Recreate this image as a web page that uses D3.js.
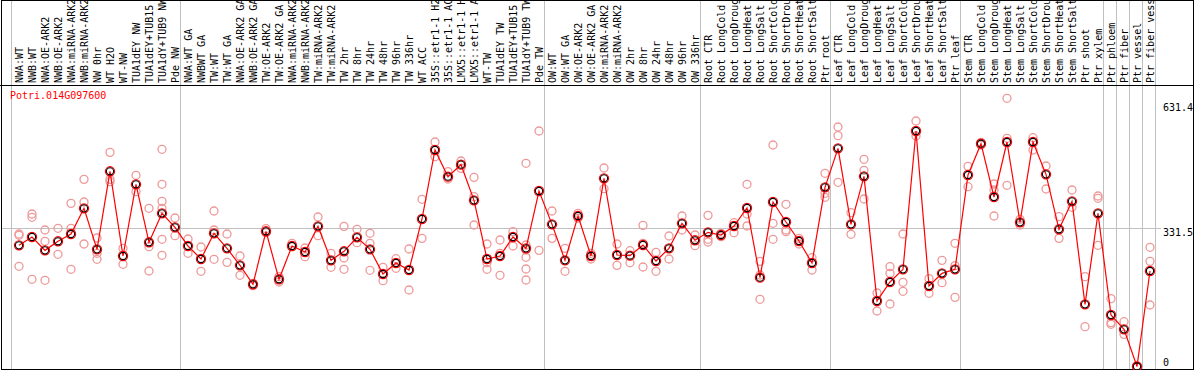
<!DOCTYPE html>
<html lang="en">
  <head>
    <meta charset="UTF-8" />
    <title>Potri.014G097600</title>
    <style>
      body { margin: 0; background: #fff; }
      svg { display: block; }
      text { font-family: "DejaVu Sans Mono", monospace; font-size: 10px; }
    </style>
  </head>
  <body>
    <div class="container"></div>
    <script src="https://d3js.org/d3.v7.min.js"></script>
    <script>
      // sample names, one per column
      const labels = [
        "NWA:WT", "NWB:WT", "NWA:OE-ARK2", "NWB:OE-ARK2", "NWA:miRNA-ARK2", "NWB:miRNA-ARK2",
        "NW 0hr", "WT H2O", "WT-NW", "TUA1dEY NW", "TUA1dEY+TUB15", "TUA1dY+TUB9 NW", "Pde NW",
        "NWA:WT GA", "NWBWT GA", "TW:WT", "TW:WT GA", "NWA:OE-ARK2 GA", "NWB:OE-ARK2 GA",
        "TW:OE-ARK2", "TW:OE-ARK2 GA", "NWA:miRNA-ARK2", "NWB:miRNA-ARK2", "TW:miRNA-ARK2",
        "TW:miRNA-ARK2", "TW 2hr", "TW 8hr", "TW 24hr", "TW 48hr", "TW 96hr", "TW 336hr",
        "WT ACC", "35S::etr1-1 H2O", "35S::etr1-1 ACC", "LMX5::etr1-1 H2O", "LMX5::etr1-1 ACC",
        "WT-TW", "TUA1dEY TW", "TUA1dEY+TUB15", "TUA1dY+TUB9 TW", "Pde TW",
        "OW:WT", "OW:WT GA", "OW:OE-ARK2", "OW:OE-ARK2 GA", "OW:miRNA-ARK2", "OW:miRNA-ARK2",
        "OW 2hr", "OW 8hr", "OW 24hr", "OW 48hr", "OW 96hr", "OW 336hr",
        "Root CTR", "Root LongCold", "Root LongDrought", "Root LongHeat", "Root LongSalt",
        "Root ShortCold", "Root ShortDrought", "Root ShortHeat", "Root ShortSalt", "Ptr root",
        "Leaf CTR", "Leaf LongCold", "Leaf LongDrought", "Leaf LongHeat", "Leaf LongSalt",
        "Leaf ShortCold", "Leaf ShortDrought", "Leaf ShortHeat", "Leaf ShortSalt", "Ptr leaf",
        "Stem CTR", "Stem LongCold", "Stem LongDrought", "Stem LongHeat", "Stem LongSalt",
        "Stem ShortCold", "Stem ShortDrought", "Stem ShortHeat", "Stem ShortSalt", "Ptr shoot",
        "Ptr xylem", "Ptr phloem", "Ptr fiber", "Ptr vessel", "Ptr fiber vessel"
      ];

      // group boundaries (column index where a new group starts)
      const groupBreaks = [0, 13, 41, 53, 63, 73, 84, 85, 86, 87, 88];

      // mean expression per sample
      const means = [
        289.8, 309.7, 277.8, 299.4, 316.9, 378.3, 280.2, 466.8, 264.3, 435.7, 297.0, 366.3, 332.8,
        288.2, 257.1, 318.5, 282.6, 241.9, 196.5, 323.3, 208.5, 288.2, 273.9, 335.2, 253.9, 275.5,
        308.9, 280.2, 221.2, 247.5, 230.8, 352.8, 517.8, 454.0, 482.7, 397.4, 257.1, 264.3, 309.7,
        282.6, 419.7,
        340.0, 253.9, 359.9, 264.3, 450.0, 266.7, 265.1, 290.6, 252.3, 282.6, 342.4, 301.8,
        320.9, 314.5, 336.0, 379.1, 212.5, 393.4, 345.6, 300.2, 247.5, 428.5,
        521.8, 340.0, 454.8, 156.7, 202.1, 232.4, 563.2, 192.5, 222.8, 232.4,
        458.0, 532.9, 405.4, 536.9, 344.8, 536.9, 459.6, 328.1, 395.0, 148.7, 366.3,
        123.2, 88.9, 0, 228.4
      ];

      // individual replicates per sample
      const reps = [
        [316.9, 313.7, 239.6], [364.7, 356.8, 208.5], [326.5, 299.4, 206.1], [330.5, 268.3],
        [390.2, 330.5, 232.4], [447.6, 393.4, 293.0], [307.3, 270.7, 256.3], [512.2, 447.6, 442.1],
        [282.6, 244.4], [457.2, 418.2], [378.3, 286.6, 228.4],
        [519.4, 435.7, 395.0, 378.3, 304.2, 265.9], [355.2, 312.9],
        [304.9, 270.7], [285.8, 227.6], [371.9, 326.5, 256.3], [316.9, 249.1], [264.3, 218.1],
        [198.9, 193.3], [329.7, 320.1], [214.9, 202.1], [294.6, 286.6], [283.4, 262.7],
        [357.6, 312.9], [270.7, 237.2], [335.2, 259.5, 232.4], [328.1, 296.2],
        [318.5, 294.6, 230.0], [237.2, 205.3], [257.9, 234.8], [281.0, 183.0], [399.8, 306.5],
        [536.9, 501.9], [466.0, 448.4], [491.5, 473.9], [452.4, 406.2, 338.4],
        [293.0, 248.3, 232.4], [302.6, 270.7, 218.1], [322.5, 288.2],
        [486.0, 290.6, 278.6, 261.2, 233.2, 206.9], [563.2, 277.8],
        [371.9, 306.5], [282.6, 227.6], [366.3, 354.4], [270.7, 257.1], [474.8, 425.3],
        [293.0, 241.9], [277.0, 248.3], [337.6, 294.6, 238.0], [273.1, 227.6], [312.1, 257.1],
        [359.9, 326.5], [314.5, 289.0],
        [361.5, 304.2, 297.8], [318.5, 310.5], [344.0, 320.1], [435.7, 364.7, 336.0],
        [251.5, 218.8, 160.7], [529.8, 342.4, 304.2], [387.9, 326.5, 322.5], [306.5, 293.0],
        [260.3, 230.8], [462.0, 414.2, 404.6],
        [572.8, 552.1, 440.5], [367.9, 316.1], [495.5, 469.2, 400.6], [175.8, 132.7],
        [238.8, 222.8, 149.5], [316.9, 201.3, 179.8], [587.2, 551.3], [210.1, 175.0],
        [253.9, 200.5], [294.6, 241.2, 165.4],
        [478.7, 430.1], [536.1, 529.8], [436.5, 422.1, 359.9], [641.4, 545.7, 433.3],
        [352.0, 338.4], [547.3, 517.8], [479.5, 424.5], [358.4, 306.5], [422.1, 380.7],
        [214.9, 95.3], [407.8, 402.2, 289.8],
        [162.3, 105.0, 100.9], [107.2, 76.9], [0, 0], [285.0, 251.5, 147.1]
      ];

      const yTicks = [0, 331.5, 631.4];
      const title = "Potri.014G097600";

      const W = 1194, H = 370;
      const headerBottom = 85;

      const svg = d3.select(".container").append("svg")
        .attr("width", W).attr("height", H);

      const x = d3.scaleBand()
        .domain(d3.range(labels.length))
        .range([11, 1155]);
      const cx = i => x(i) + 8;

      const y = d3.scaleLinear()
        .domain([0, 631.4])
        .range([366.5, 102.5]);

      // group separators
      svg.selectAll("line.sep")
        .data(groupBreaks)
        .enter()
        .append("line")
        .attr("class", "sep")
        .attr("x1", d => (d < labels.length ? x(d) : x(labels.length - 1) + x.bandwidth()))
        .attr("x2", d => (d < labels.length ? x(d) : x(labels.length - 1) + x.bandwidth()))
        .attr("y1", 0)
        .attr("y2", H)
        .attr("stroke", "#c0c0c0")
        .attr("stroke-width", 1)
        .attr("shape-rendering", "crispEdges");

      // middle grid line
      svg.append("line")
        .attr("x1", 1).attr("x2", 1161)
        .attr("y1", Math.round(y(331.5)) + 0.5).attr("y2", Math.round(y(331.5)) + 0.5)
        .attr("stroke", "#c0c0c0")
        .attr("shape-rendering", "crispEdges");

      // frame + header divider
      svg.append("rect")
        .attr("x", 1.5).attr("y", 0.5)
        .attr("width", W - 2.5).attr("height", H - 1.5)
        .attr("fill", "none").attr("stroke", "#000")
        .attr("shape-rendering", "crispEdges");
      svg.append("line")
        .attr("x1", 0).attr("x2", W)
        .attr("y1", headerBottom + 0.5).attr("y2", headerBottom + 0.5)
        .attr("stroke", "#000")
        .attr("shape-rendering", "crispEdges");

      // column labels (rotated)
      svg.selectAll("text.lab")
        .data(labels)
        .enter()
        .append("text")
        .attr("class", "lab")
        .attr("transform", (d, i) => `translate(${cx(i) + 4},83) rotate(-90)`)
        .attr("text-anchor", "start")
        .attr("fill", "#000")
        .text(d => d);

      // title
      svg.append("text")
        .attr("x", 10).attr("y", 99)
        .attr("fill", "red")
        .text(title);

      // y labels
      svg.selectAll("text.ytick")
        .data(yTicks)
        .enter()
        .append("text")
        .attr("class", "ytick")
        .attr("x", 1163)
        .attr("y", d => Math.min(y(d) + 8.5, 366))
        .attr("fill", "#000")
        .text(d => d);

      // replicate points
      const repPts = [];
      reps.forEach((r, i) => r.forEach(v => repPts.push({ i, v })));
      svg.selectAll("circle.rep")
        .data(repPts)
        .enter()
        .append("circle")
        .attr("class", "rep")
        .attr("cx", d => cx(d.i))
        .attr("cy", d => y(d.v))
        .attr("r", 4)
        .attr("fill", "none")
        .attr("stroke", "#ee9999")
        .attr("stroke-width", 1.3);

      // mean line
      const line = d3.line()
        .x((d, i) => cx(i))
        .y(d => y(d));
      svg.append("path")
        .datum(means)
        .attr("d", line)
        .attr("fill", "none")
        .attr("stroke", "red")
        .attr("stroke-width", 1.2);

      // mean markers
      const mk = svg.selectAll("g.mean")
        .data(means)
        .enter()
        .append("g")
        .attr("class", "mean")
        .attr("transform", (d, i) => `translate(${cx(i)},${y(d)})`);
      mk.append("circle")
        .attr("r", 4.6)
        .attr("fill", "none")
        .attr("stroke", "red")
        .attr("stroke-width", 1.2);
      mk.append("circle")
        .attr("r", 3.6)
        .attr("fill", "none")
        .attr("stroke", "#000")
        .attr("stroke-width", 1.1);
    </script>
  </body>
</html>
